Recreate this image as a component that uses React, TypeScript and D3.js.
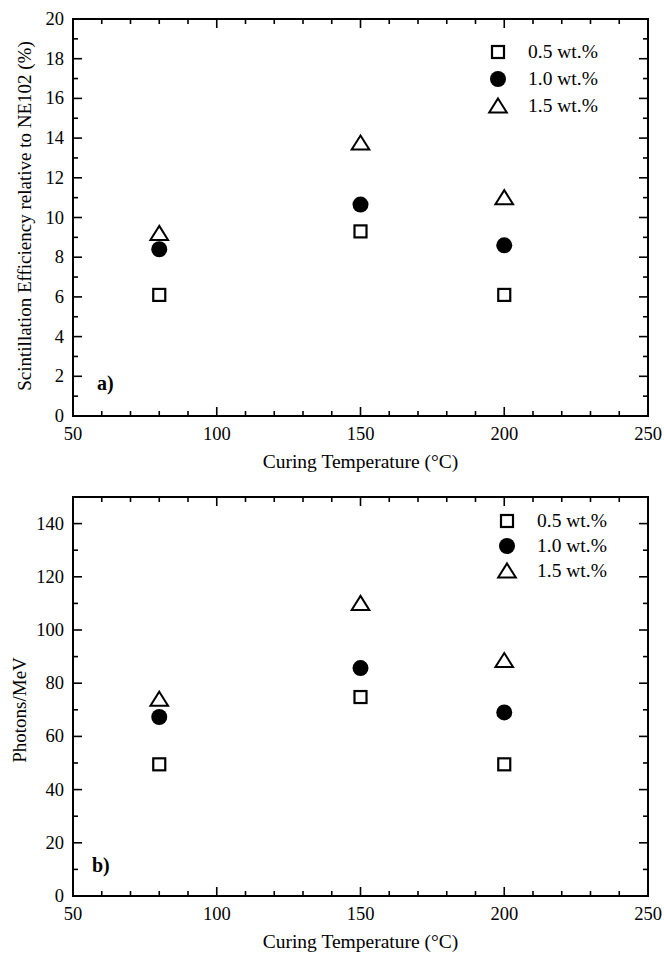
import React from "react";
import * as d3 from "d3";

const temps = [80, 150, 200];
const seriesNames = ["0.5 wt.%", "1.0 wt.%", "1.5 wt.%"];
const effHalf = [6.1, 9.3, 6.1];
const effOne = [8.4, 10.65, 8.6];
const effOneHalf = [9.2, 13.75, 11.0];
const photHalf = [49.5, 74.8, 49.5];
const photOne = [67.3, 85.7, 69.0];
const photOneHalf = [74.0, 110.0, 88.5];
const xTicks = [50, 100, 150, 200, 250];
const effTicks = [0, 2, 4, 6, 8, 10, 12, 14, 16, 18, 20];
const photTicks = [0, 20, 40, 60, 80, 100, 120, 140];

const FONT = "'Liberation Serif', 'DejaVu Serif', 'Times New Roman', serif";
const shapes = ["square", "circle", "triangle"];

function Marker({ kind, x, y }: { kind: string; x: number; y: number }) {
  if (kind === "square") {
    return <rect x={x - 6} y={y - 6} width={12} height={12} fill="white" stroke="black" strokeWidth={2.2} />;
  }
  if (kind === "circle") {
    return <circle cx={x} cy={y} r={8} fill="black" />;
  }
  const p = d3.path();
  p.moveTo(x, y - 7.5);
  p.lineTo(x + 8.8, y + 6.5);
  p.lineTo(x - 8.8, y + 6.5);
  p.closePath();
  return <path d={p.toString()} fill="white" stroke="black" strokeWidth={2} strokeLinejoin="miter" />;
}

function Panel(props: any) {
  const { top, bottom, yMax, yMinor, yTicks, series, yTitle, label, labelPos, legendX, legendY, legendStep, yTitleX, yTitleY, yTitleFont } = props;
  const left = 73, right = 648;
  const x = d3.scaleLinear().domain([50, 250]).range([left, right]);
  const y = d3.scaleLinear().domain([0, yMax]).range([bottom, top]);
  const xMinor = d3.range(50, 251, 10);
  const yAll = d3.range(0, yMax + 0.0001, yMinor);
  return (
    <g>
      {xMinor.map((v) => {
        const major = v % 50 === 0;
        const len = major ? 9 : 5;
        return (
          <g key={"xt" + v}>
            <line x1={x(v)} x2={x(v)} y1={bottom} y2={bottom - len} stroke="black" strokeWidth={1.6} />
            <line x1={x(v)} x2={x(v)} y1={top} y2={top + len} stroke="black" strokeWidth={1.6} />
          </g>
        );
      })}
      {yAll.map((v, i) => {
        const major = i % 2 === 0;
        const len = major ? 9 : 5;
        return (
          <g key={"yt" + i}>
            <line x1={left} x2={left + len} y1={y(v)} y2={y(v)} stroke="black" strokeWidth={1.6} />
            <line x1={right} x2={right - len} y1={y(v)} y2={y(v)} stroke="black" strokeWidth={1.6} />
          </g>
        );
      })}
      <rect x={left} y={top} width={right - left} height={bottom - top} fill="none" stroke="black" strokeWidth={2} />
      {xTicks.map((v) => (
        <text key={"xl" + v} x={x(v)} y={bottom + 24} textAnchor="middle" fontSize={18.5} fontFamily={FONT}>{v}</text>
      ))}
      {yTicks.map((v: number) => (
        <text key={"yl" + v} x={left - 9} y={y(v) + 6} textAnchor="end" fontSize={18.5} fontFamily={FONT}>{v}</text>
      ))}
      <text x={(left + right) / 2} y={bottom + 52} textAnchor="middle" fontSize={19.5} fontFamily={FONT}>Curing Temperature (°C)</text>
      <text transform={`translate(${yTitleX},${yTitleY}) rotate(-90)`} textAnchor="middle" fontSize={yTitleFont} fontFamily={FONT}>{yTitle}</text>
      <text x={labelPos[0]} y={labelPos[1]} fontSize={20} fontWeight="bold" fontFamily={FONT}>{label}</text>
      {series.map((vals: number[], si: number) =>
        vals.map((v, i) => <Marker key={si + "-" + i} kind={shapes[si]} x={x(temps[i])} y={y(v)} />)
      )}
      {seriesNames.map((n, si) => (
        <g key={"lg" + si}>
          <Marker kind={shapes[si]} x={legendX} y={legendY + si * legendStep} />
          <text x={legendX + 30} y={legendY + si * legendStep + 6} fontSize={19.5} fontFamily={FONT}>{n}</text>
        </g>
      ))}
    </g>
  );
}

export default function App() {
  return (
    <svg width={664} height={955} style={{ position: "absolute", left: 0, top: 0, background: "white" }}>
      <rect width={664} height={955} fill="white" />
      <Panel top={19} bottom={416} yMax={20} yMinor={1} yTicks={effTicks}
        series={[effHalf, effOne, effOneHalf]}
        yTitle="Scintillation Efficiency relative to NE102 (%)" yTitleX={31} yTitleY={216} yTitleFont={19}
        label="a)" labelPos={[97, 390]} legendX={498} legendY={52} legendStep={27} />
      <Panel top={497} bottom={896} yMax={150} yMinor={10} yTicks={photTicks}
        series={[photHalf, photOne, photOneHalf]}
        yTitle="Photons/MeV" yTitleX={26} yTitleY={710} yTitleFont={19}
        label="b)" labelPos={[92, 872]} legendX={507} legendY={521} legendStep={25} />
    </svg>
  );
}
